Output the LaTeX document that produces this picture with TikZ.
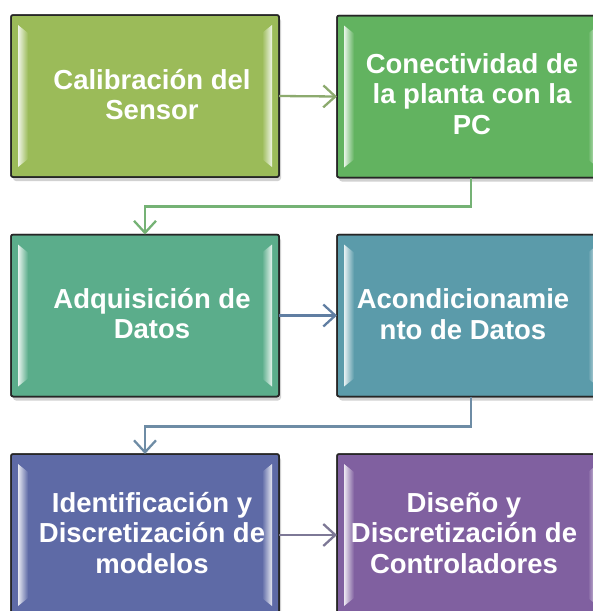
\documentclass[tikz,border=0pt]{standalone}
\usepackage{fontspec}
\setmainfont{Liberation Sans}
\usetikzlibrary{arrows.meta,calc}
\definecolor{cA}{RGB}{155,187,89}
\definecolor{cB}{RGB}{98,179,96}
\definecolor{cC}{RGB}{91,173,139}
\definecolor{cD}{RGB}{91,155,170}
\definecolor{cE}{RGB}{94,106,166}
\definecolor{cF}{RGB}{128,96,160}
\definecolor{kA}{RGB}{140,170,110}
\definecolor{kB}{RGB}{117,178,117}
\definecolor{kC}{RGB}{96,126,162}
\definecolor{kD}{RGB}{110,140,165}
\definecolor{kE}{RGB}{125,120,150}
\tikzset{
  box/.style={draw=black!85, line width=1.5pt, rounded corners=2pt,
    minimum width=268pt, minimum height=162pt, inner sep=0pt, outer sep=0pt},
  lbl/.style={text=white, align=center, inner sep=0pt,
    font=\bfseries\fontsize{27.5}{30.5}\selectfont},
  conn/.style={line width=2.3pt, -{Straight Barb[length=12pt,width=22pt,line width=2.3pt]}},
  shadowbox/.style={fill=black, opacity=0.18, rounded corners=3pt}
}
\newcommand{\bevel}[2]{%
  \shade[left color=#2!15!white, right color=#2]
    ($(#1.north west)+(7,10)$) -- ($(#1.north west)+(17,18)$) --
    ($(#1.south west)+(17,-18)$) -- ($(#1.south west)+(7,-10)$) -- cycle;
  \shade[left color=#2, right color=#2!15!white]
    ($(#1.north east)+(-17,18)$) -- ($(#1.north east)+(-7,10)$) --
    ($(#1.south east)+(-7,-10)$) -- ($(#1.south east)+(-17,-18)$) -- cycle;
}
\begin{document}
\begin{tikzpicture}[x=1pt,y=-1pt]
\useasboundingbox (0,0) rectangle (593,611);
\clip (0,0) rectangle (593,611);
% shadows
\foreach \cx/\cy in {145/96,471/96.5,145/315.5,471/315.5,145/535,471/535}{
  \fill[shadowbox] (\cx-132,\cy-78) rectangle (\cx+136,\cy+85);
}
% boxes
\node[box, fill=cA] (b1) at (145,96) {};
\node[box, fill=cB] (b2) at (471,96.5) {};
\node[box, fill=cC] (b3) at (145,315.5) {};
\node[box, fill=cD] (b4) at (471,315.5) {};
\node[box, fill=cE] (b5) at (145,535) {};
\node[box, fill=cF] (b6) at (471,535) {};
\bevel{b1}{cA}
\bevel{b2}{cB}
\bevel{b3}{cC}
\bevel{b4}{cD}
\bevel{b5}{cE}
\bevel{b6}{cF}
\foreach \n in {b1,b2,b3,b4,b5,b6}{
  \draw[draw=black!85, line width=1.5pt, rounded corners=2pt]
    (\n.north west) rectangle (\n.south east);
}
% labels
\node[lbl] (t1) at (152,94.5) {Calibración del\\Sensor};
\node[lbl] (t2) at (472,94) {Conectividad de\\la planta con la\\PC};
\node[lbl] (t3) at (152,313.5) {Adquisición de\\Datos};
\node[lbl] (t4) at (463,314) {Acondicionamie\\nto de Datos};
\node[lbl] (t5) at (152,533) {Identificación y\\Discretización de\\modelos};
\node[lbl] (t6) at (464,533) {Diseño y\\Discretización de\\Controladores};
% connectors
\draw[conn, kA] (b1.east) -- (b2.west);
\draw[conn, kB] (b2.south) -- ++(0,29) -| (b3.north);
\draw[conn, kC] (b3.east) -- (b4.west);
\draw[conn, kD] (b4.south) -- ++(0,30) -| (b5.north);
\draw[conn, kE] (b5.east) -- (b6.west);
\end{tikzpicture}
\end{document}
